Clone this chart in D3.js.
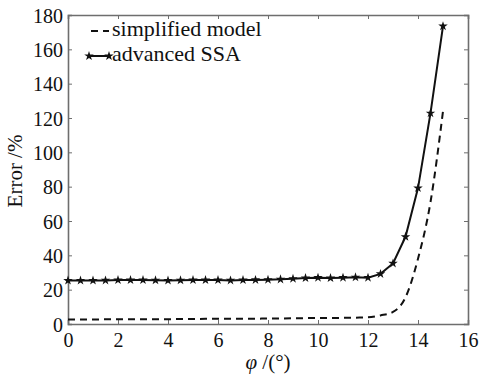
<!DOCTYPE html>
<html>
<head>
<meta charset="utf-8">
<script src="https://cdn.jsdelivr.net/npm/d3@7"></script>
<style>
  body { margin: 0; background: #fff; }
  text { font-family: "Liberation Serif", "Times New Roman", serif; fill: #111; }
</style>
</head>
<body>
<div id="chart"></div>
<script>
//Data
const phi = [0, 0.5, 1, 1.5, 2, 2.5, 3, 3.5, 4, 4.5, 5, 5.5, 6, 6.5, 7, 7.5,
  8, 8.5, 9, 9.5, 10, 10.5, 11, 11.5, 12, 12.5, 13, 13.5, 14, 14.5, 15];
const simplifiedModel = [2.6, 2.6, 2.6, 2.7, 2.7, 2.7, 2.8, 2.8, 2.8, 2.9, 2.9, 3.0, 3.0, 3.0, 3.1, 3.1,
  3.2, 3.2, 3.3, 3.4, 3.5, 3.5, 3.6, 3.7, 3.9, 5.0, 7.0, 15.5, 38, 71, 124];
const advancedSSA = [25.3, 25.3, 25.3, 25.4, 25.6, 25.6, 25.6, 25.5, 25.3, 25.5, 25.6, 25.6, 25.6, 25.4, 25.6, 25.7,
  25.8, 26.0, 26.4, 26.8, 27.0, 26.8, 27.0, 27.2, 27.0, 29.2, 35.3, 50.8, 79.2, 122.8, 173.5];
const xTicks = [0, 2, 4, 6, 8, 10, 12, 14, 16];
const yTicks = [0, 20, 40, 60, 80, 100, 120, 140, 160, 180];
const seriesNames = ['simplified model', 'advanced SSA'];

//Visual
const width = 480;
const height = 377;
const margin = { top: 15, right: 12, bottom: 53, left: 68 };
const axisColor = '#6e6e6e';
const fontFamily = '"Liberation Serif", "Times New Roman", serif';

const svg = d3.select('#chart')
  .append('svg')
  .attr('width', width)
  .attr('height', height);

const x = d3.scaleLinear().domain([0, 16]).range([margin.left, width - margin.right]);
const y = d3.scaleLinear().domain([0, 180]).range([height - margin.bottom, margin.top]);

// frame with inward ticks on all sides
const bottomAxis = svg.append('g')
  .attr('transform', `translate(0,${y(0)})`)
  .call(d3.axisBottom(x).tickValues(xTicks).tickSize(-4).tickPadding(7).tickFormat(d3.format('d')));
const topAxis = svg.append('g')
  .attr('transform', `translate(0,${y(180)})`)
  .call(d3.axisTop(x).tickValues(xTicks).tickSize(-4).tickFormat(''));
const leftAxis = svg.append('g')
  .attr('transform', `translate(${x(0)},0)`)
  .call(d3.axisLeft(y).tickValues(yTicks).tickSize(-4).tickPadding(5).tickFormat(d3.format('d')));
const rightAxis = svg.append('g')
  .attr('transform', `translate(${x(16)},0)`)
  .call(d3.axisRight(y).tickValues(yTicks).tickSize(-4).tickFormat(''));

[bottomAxis, topAxis, leftAxis, rightAxis].forEach(g => {
  g.attr('font-family', null);
  g.select('.domain').attr('stroke', axisColor).attr('stroke-width', 1.6);
  g.selectAll('.tick line').attr('stroke', axisColor).attr('stroke-width', 1);
  g.selectAll('.tick text')
    .style('font-family', fontFamily)
    .style('font-size', '20px')
    .attr('fill', '#111');
});
bottomAxis.selectAll('.tick text').attr('dy', '0.82em');
leftAxis.selectAll('.tick text').attr('dy', '0.36em');

// lines
const line = d3.line().x(d => x(d[0])).y(d => y(d[1]));

svg.append('path')
  .datum(phi.map((p, i) => [p, simplifiedModel[i]]))
  .attr('d', line.curve(d3.curveMonotoneX))
  .attr('fill', 'none')
  .attr('stroke', '#111')
  .attr('stroke-width', 2)
  .attr('stroke-dasharray', '7,5');

const ssaData = phi.map((p, i) => [p, advancedSSA[i]]);
svg.append('path')
  .datum(ssaData)
  .attr('d', d3.line().x(d => x(d[0])).y(d => y(d[1])))
  .attr('fill', 'none')
  .attr('stroke', '#111')
  .attr('stroke-width', 2);

const star = d3.symbol().type(d3.symbolStar).size(28);
svg.selectAll('.star')
  .data(ssaData)
  .enter()
  .append('path')
  .attr('class', 'star')
  .attr('d', star)
  .attr('transform', d => `translate(${x(d[0])},${y(d[1])})`)
  .attr('fill', '#111');

// legend
const legend = svg.append('g');
legend.append('line')
  .attr('x1', 91).attr('x2', 109).attr('y1', 31).attr('y2', 31)
  .attr('stroke', '#111').attr('stroke-width', 2).attr('stroke-dasharray', '7,5');
legend.append('line')
  .attr('x1', 89).attr('x2', 109).attr('y1', 56).attr('y2', 56)
  .attr('stroke', '#111').attr('stroke-width', 2);
legend.selectAll('.lstar')
  .data([89, 109])
  .enter()
  .append('path')
  .attr('d', star)
  .attr('transform', d => `translate(${d},56)`)
  .attr('fill', '#111');
legend.selectAll('.ltext')
  .data(seriesNames)
  .enter()
  .append('text')
  .attr('x', 112)
  .attr('y', (d, i) => 36 + i * 25)
  .style('font-size', '22px')
  .text(d => d);

// axis titles
const xTitle = svg.append('text')
  .attr('x', 268)
  .attr('y', 369)
  .attr('text-anchor', 'middle')
  .style('font-size', '21px');
xTitle.append('tspan').style('font-style', 'italic').text('φ');
xTitle.append('tspan').text(' /(°)');

svg.append('text')
  .attr('transform', 'translate(22,171) rotate(-90)')
  .attr('text-anchor', 'middle')
  .style('font-size', '21px')
  .text('Error /%');
</script>
</body>
</html>
